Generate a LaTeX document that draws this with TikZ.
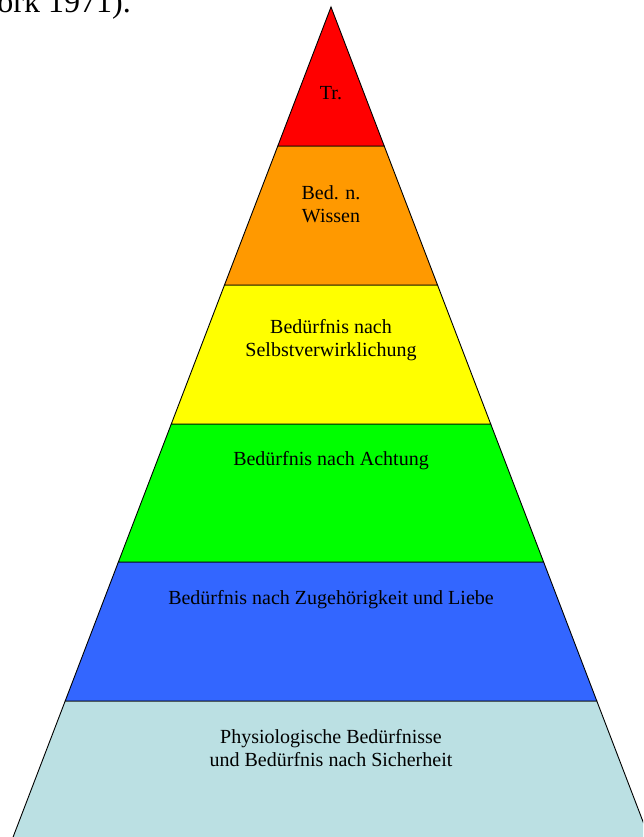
\documentclass[tikz,border=0pt]{standalone}
\usepackage{fontspec}
\setmainfont{Liberation Serif}
\definecolor{cRed}{HTML}{FF0000}
\definecolor{cOrange}{HTML}{FF9900}
\definecolor{cYellow}{HTML}{FFFF00}
\definecolor{cGreen}{HTML}{00FF00}
\definecolor{cBlue}{HTML}{3366FF}
\definecolor{cLight}{HTML}{BBE0E3}
\begin{document}
\begin{tikzpicture}[x=1pt,y=1pt,
  band/.style={draw=black,line width=0.9pt,line join=miter},
  lbl/.style={font=\fontsize{20}{23}\selectfont,align=center,inner sep=0pt,text=black}]
\useasboundingbox (0,0) rectangle (643,837);
\clip (0,0) rectangle (643,837);
% bands
\fill[cLight] (13.1,0) -- (65.2,136) -- (596.8,136) -- (648.9,0) -- cycle;
\draw[band] (13.1,0) -- (65.2,136) -- (596.8,136) -- (648.9,0);
\draw[band,fill=cBlue] (65.2,136) -- (118.4,275) -- (543.6,275) -- (596.8,136) -- cycle;
\draw[band,fill=cGreen] (118.4,275) -- (171.3,413) -- (490.7,413) -- (543.6,275) -- cycle;
\draw[band,fill=cYellow] (171.3,413) -- (224.5,552) -- (437.5,552) -- (490.7,413) -- cycle;
\draw[band,fill=cOrange] (224.5,552) -- (277.8,691) -- (384.2,691) -- (437.5,552) -- cycle;
\draw[band,fill=cRed] (277.8,691) -- (331,830) -- (384.2,691) -- cycle;
% labels
\node[lbl] (tr) at (331,744) {Tr.};
\node[lbl] (wissen) at (331,633) {Bed. n.\\Wissen};
\node[lbl] (selbst) at (331,497) {Bedürfnis nach\\Selbstverwirklichung};
\node[lbl] (achtung) at (331,376) {Bedürfnis nach Achtung};
\node[lbl] (liebe) at (331,237) {Bedürfnis nach Zugehörigkeit und Liebe};
\node[lbl] (phys) at (331,89) {Physiologische Bedürfnisse\\und Bedürfnis nach Sicherheit};
\node[font=\fontsize{32}{36}\selectfont,anchor=base east,inner sep=0pt] (cite) at (131,824) {ork 1971).};
\end{tikzpicture}
\end{document}
